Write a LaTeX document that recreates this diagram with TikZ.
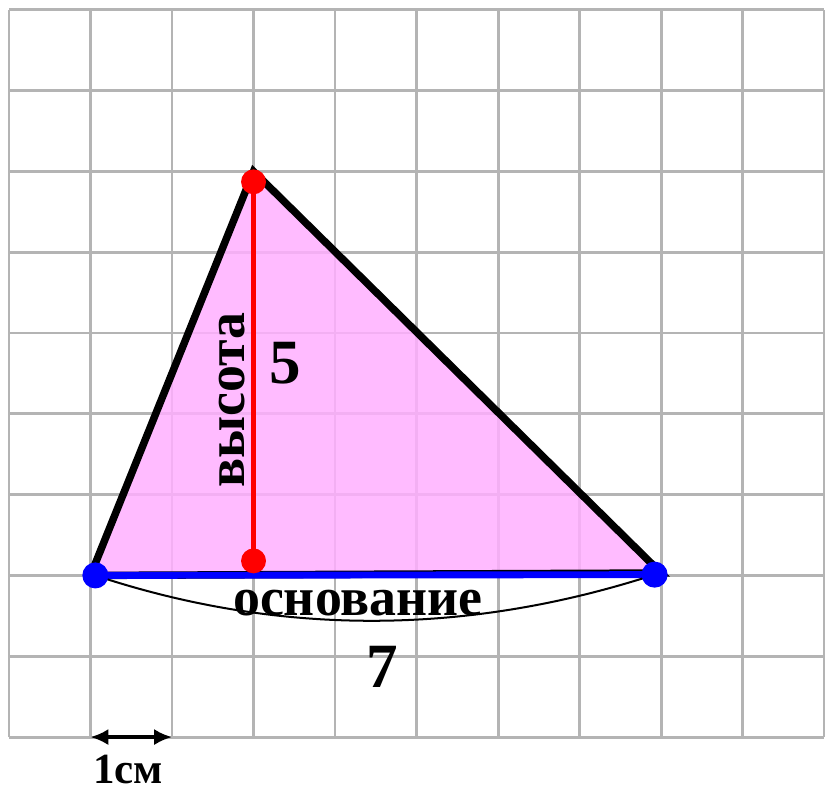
\documentclass[tikz,border=0pt]{standalone}
\usepackage{fontspec}
\setmainfont{Liberation Serif}
\usepackage{tikz}
\usetikzlibrary{arrows.meta}
\definecolor{gridgray}{HTML}{B4B4B4}
\definecolor{trifill}{HTML}{FFAFFF}
\definecolor{basecol}{HTML}{0000FF}
\definecolor{heightcol}{HTML}{FF0000}

\begin{document}
\begin{tikzpicture}[x=1cm,y=0.9914cm,
  font=\bfseries,
  gridline/.style={gridgray,line width=1pt},
  side/.style={line width=2.6pt,line join=miter},
  baseline/.style={basecol,line width=2.4pt},
  heightline/.style={heightcol,line width=1.8pt},
  dot/.style={circle,inner sep=0pt,draw=none},
  bluedot/.style={dot,fill=basecol,minimum size=9.1pt},
  reddot/.style={dot,fill=heightcol,minimum size=8.7pt},
  brace/.style={black,line width=0.7pt},
  big/.style={font=\fontsize{22}{24}\selectfont\bfseries},
  word/.style={font=\fontsize{18.8}{20}\selectfont\bfseries},
  arr/.style={{Latex[length=2.2mm,width=2mm]}-{Latex[length=2.2mm,width=2mm]},line width=1.2pt}
]
\useasboundingbox (-0.11,-0.64) rectangle (10.01,9.12);
% grid
\foreach \x in {0,...,10} \draw[gridline] (\x,0) -- (\x,9);
\foreach \y in {0,...,9} \draw[gridline] (0,\y) -- (10,\y);
% triangle
\coordinate (A) at (1,2);
\coordinate (B) at (8,2.03);
\coordinate (C) at (3,7);
\coordinate (bL) at (1.06,2.0);
\coordinate (bR) at (7.92,2.01);
\coordinate (hT) at (3,6.87);
\coordinate (hB) at (3,2.18);
\fill[trifill,fill opacity=0.85] (A) -- (B) -- (C) -- cycle;
\draw[side] (A) -- (B) -- (C) -- cycle;
\draw[baseline] (bL) -- (bR);
\draw[heightline] (hT) -- (hB);
\draw[brace] (bL) .. controls (3.3,1.25) and (5.6,1.25) .. (bR);
\node[bluedot] (dL) at (bL) {};
\node[bluedot] (dR) at (bR) {};
\node[reddot] (dT) at (hT) {};
\node[reddot] (dB) at (hB) {};
% labels
\node[word,rotate=90] (vys) at (2.74,4.17) {высота};
\node[big] (h5) at (3.39,4.63) {5};
\node[word] (osn) at (4.28,1.66) {основание};
\node[big] (b7) at (4.58,0.87) {7};
% unit
\coordinate (u0) at (1,0);
\coordinate (u1) at (2,0);
\draw[arr] (u0) -- (u1);
\node[font=\fontsize{15}{17}\selectfont\bfseries,inner sep=0.5pt] (unit) at (1.46,-0.40) {1см};
\end{tikzpicture}
\end{document}
